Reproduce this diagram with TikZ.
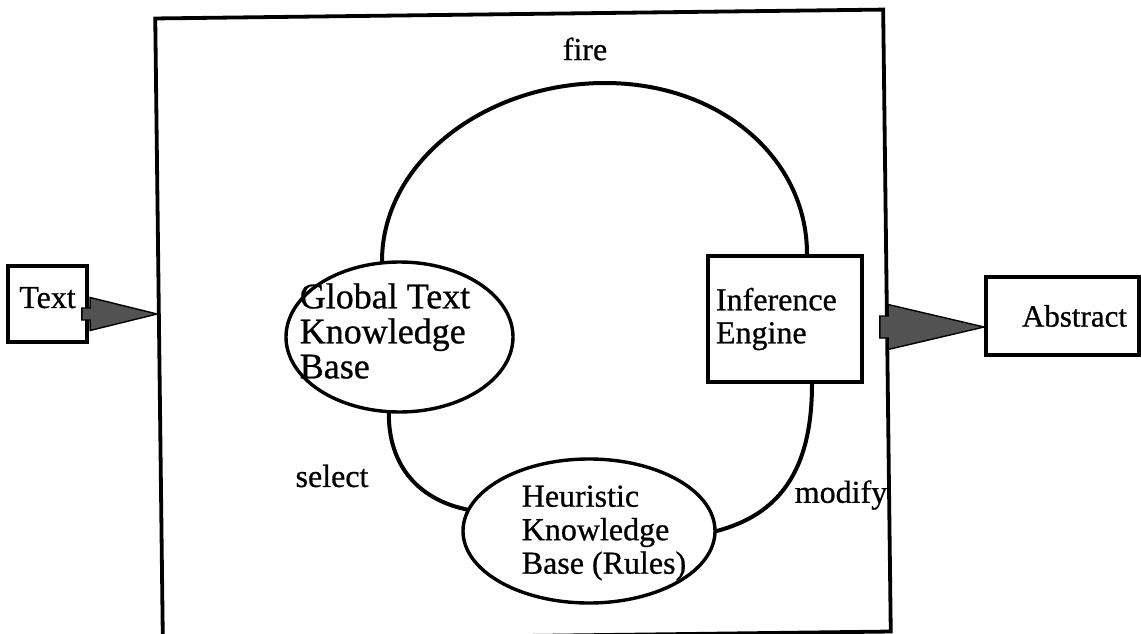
\documentclass[tikz,border=0pt]{standalone}
\usepackage{fontspec}
\setmainfont{Liberation Serif}[RawFeature={embolden=0.7}]
\usetikzlibrary{shapes.geometric,calc}

% Block arrow: #1 start, #2 tip, #3 half shaft width, #4 half head width, #5 head length
\newcommand\fatarrow[5]{%
  \filldraw[blockarrow] let \p1=(#1), \p2=(#2) in
    (\x1,{\y2+#3pt}) -- ({\x2-#5pt},{\y2+#3pt}) -- ({\x2-#5pt},{\y2+#4pt})
    -- (\x2,\y2) -- ({\x2-#5pt},{\y2-#4pt}) -- ({\x2-#5pt},{\y2-#3pt})
    -- (\x1,{\y2-#3pt}) -- cycle;}

\begin{document}
\begin{tikzpicture}[x=1pt,y=-1pt,
  txt/.style={font=\fontsize{32}{33.5}\selectfont, inner sep=0pt, align=left},
  bigtxt/.style={font=\fontsize{36}{35}\selectfont, inner sep=0pt, align=left},
  box/.style={draw, line width=3.8pt, rectangle, font=\fontsize{32}{33}\selectfont},
  ell/.style={draw, line width=3.4pt, ellipse, inner sep=0pt},
  link/.style={line width=4pt, line cap=round},
  blockarrow/.style={fill=black!68, draw=black, line width=1.4pt, line join=miter}]

\useasboundingbox (0,0) rectangle (1141,634);
\fill[white] (0,0) rectangle (1141,634);

% system frame
\node[draw, line width=3.8pt, rectangle, minimum width=728pt, minimum height=622pt,
      inner sep=0pt, rotate=0.7] (sys) at (523,325) {};

% input and output
\node[box, minimum width=79pt, minimum height=76pt, inner sep=0pt, text depth=13pt] (txt) at (47.5,304) {Text};
\node[box, font=\fontsize{31}{33}\selectfont, minimum width=153pt, minimum height=78pt,
      text width=129pt, align=right, inner xsep=12pt, inner ysep=0pt] (abs) at (1062.5,316) {Abstract};

% components
\node[ell, minimum width=227pt, minimum height=150pt] (gtkb) at (399.5,337) {};
\node[bigtxt] (gtkbt) at (385,331) {Global Text\\Knowledge\\Base};

\node[ell, minimum width=252pt, minimum height=144pt] (heur) at (589,531) {};
\node[txt] (heurt) at (604,533) {Heuristic\\Knowledge\\Base (Rules)};

\node[box, minimum width=154pt, minimum height=126pt, text width=138pt, align=left,
      inner xsep=8pt, inner ysep=0pt] (ie) at (785,319) {Inference\\Engine};

% labels
\node[txt] (fire) at (585,49) {fire};
\node[txt] (select) at (332,476) {select};
\node[txt] (modify) at (841,495) {modify};

% connectors between the components
\coordinate (apex) at (605,83);
\coordinate (iein) at ($(ie.north)+(22,0)$);
\coordinate (ieout) at ($(ie.south)+(27,0)$);
\draw[link] (gtkb.103) .. controls +(0,-99) and +(-120,0) .. (apex)
            .. controls +(114,0) and +(0,-97) .. (iein);
\draw[link] (gtkb.262) .. controls +(0,60) and +(-40,-8) .. (heur.170);
\draw[link] (ieout) .. controls +(0,90) and +(60,-16) .. (heur.east);

% block arrows in and out of the frame
\coordinate (tin0) at ($(txt.east)+(-7,10)$);
\coordinate (tin1) at (sys.west |- tin0);
\fatarrow{tin0}{tin1}{6}{16.5}{67}

\coordinate (aout1) at ($(abs.west)+(0,11)$);
\coordinate (aout0) at ($(sys.east |- aout1)+(-9,0)$);
\fatarrow{aout0}{aout1}{11}{22.5}{96}

\end{tikzpicture}
\end{document}
